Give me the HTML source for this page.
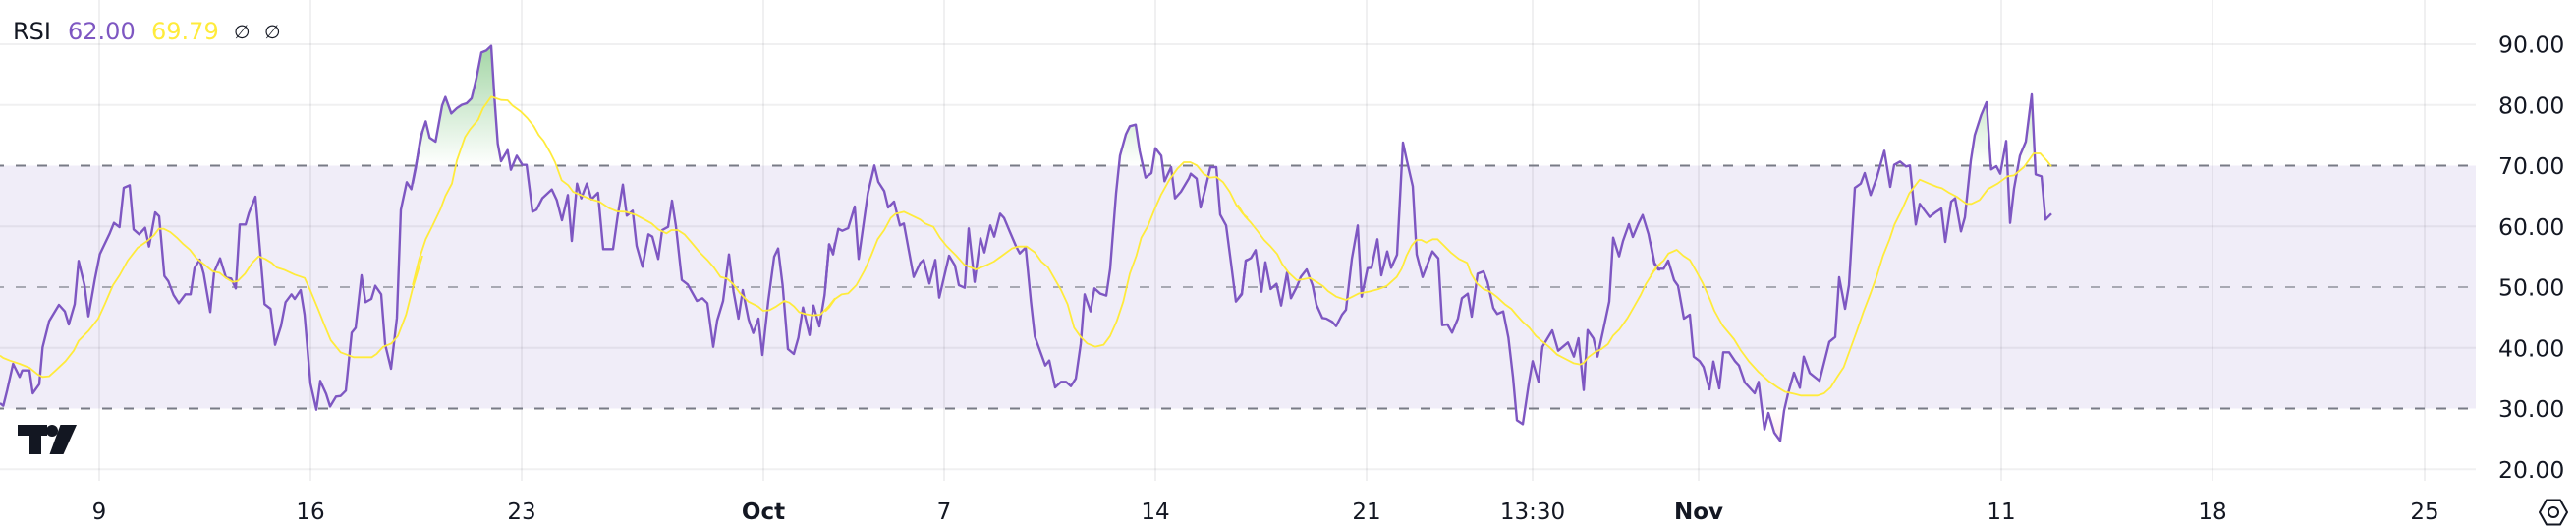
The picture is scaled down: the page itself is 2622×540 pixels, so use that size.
<!DOCTYPE html>
<html>
<head>
<meta charset="utf-8">
<style>
  html,body{margin:0;padding:0;background:#ffffff;}
  body{width:2622px;height:540px;overflow:hidden;}
  svg{display:block;}
  .ax{font-family:"DejaVu Sans","Liberation Sans",sans-serif;font-size:23px;fill:#131722;}
  .pr{font-family:"DejaVu Sans","Liberation Sans",sans-serif;font-size:23.5px;fill:#131722;}
  .hd{font-family:"DejaVu Sans","Liberation Sans",sans-serif;font-size:24px;}
</style>
</head>
<body>
<svg width="2622" height="540" viewBox="0 0 2622 540" xmlns="http://www.w3.org/2000/svg">
  <defs>
    <linearGradient id="gG" gradientUnits="userSpaceOnUse" x1="0" y1="417" x2="0" y2="-120">
      <stop offset="0" stop-color="#4caf50" stop-opacity="0"/>
      <stop offset="1" stop-color="#4caf50" stop-opacity="0.75"/>
    </linearGradient>
    <linearGradient id="gR" gradientUnits="userSpaceOnUse" x1="0" y1="1157" x2="0" y2="1700">
      <stop offset="0" stop-color="#f23645" stop-opacity="0"/>
      <stop offset="1" stop-color="#f23645" stop-opacity="0.6"/>
    </linearGradient>
    <clipPath id="cgF" clipPathUnits="userSpaceOnUse"><rect x="-100" y="-400" width="1375" height="817"/></clipPath>
    <clipPath id="cgM" clipPathUnits="userSpaceOnUse"><rect x="15" y="-400" width="1260" height="817"/></clipPath>
    <clipPath id="cgL" clipPathUnits="userSpaceOnUse"><rect x="15" y="-400" width="2000" height="817"/></clipPath>
    <clipPath id="crM" clipPathUnits="userSpaceOnUse"><rect x="15" y="1157" width="1260" height="800"/></clipPath>
    <clipPath id="crL" clipPathUnits="userSpaceOnUse"><rect x="15" y="1157" width="2000" height="800"/></clipPath>
  </defs>

  <rect x="0" y="0" width="2622" height="540" fill="#ffffff"/>

  <!-- RSI band -->
  <rect x="0" y="168.5" width="2520" height="247" fill="#f0edf8"/>

  <!-- horizontal grid -->
  <g stroke="#2a2e39" stroke-opacity="0.07" stroke-width="2">
    <line x1="0" y1="45" x2="2520" y2="45"/>
    <line x1="0" y1="106.75" x2="2520" y2="106.75"/>
    <line x1="0" y1="230.25" x2="2520" y2="230.25"/>
    <line x1="0" y1="353.75" x2="2520" y2="353.75"/>
    <line x1="0" y1="477.25" x2="2520" y2="477.25"/>
  </g>
  <!-- vertical grid -->
  <g stroke="#2a2e39" stroke-opacity="0.07" stroke-width="2">
    <line x1="101" y1="0" x2="101" y2="489"/>
    <line x1="316" y1="0" x2="316" y2="489"/>
    <line x1="531" y1="0" x2="531" y2="489"/>
    <line x1="777" y1="0" x2="777" y2="489"/>
    <line x1="961" y1="0" x2="961" y2="489"/>
    <line x1="1176" y1="0" x2="1176" y2="489"/>
    <line x1="1391" y1="0" x2="1391" y2="489"/>
    <line x1="1560" y1="0" x2="1560" y2="489"/>
    <line x1="1729" y1="0" x2="1729" y2="489"/>
    <line x1="2037" y1="0" x2="2037" y2="489"/>
    <line x1="2252" y1="0" x2="2252" y2="489"/>
    <line x1="2468" y1="0" x2="2468" y2="489"/>
  </g>

  <!-- dashed level lines -->
  <g stroke-width="2" stroke-dasharray="10 12" stroke-dashoffset="6">
    <line x1="0" y1="168.5" x2="2520" y2="168.5" stroke="#787b86"/>
    <line x1="0" y1="292" x2="2520" y2="292" stroke="#787b86" stroke-opacity="0.6"/>
    <line x1="0" y1="415.5" x2="2520" y2="415.5" stroke="#787b86"/>
  </g>

  <!-- Group A: x 0..430 -->
  <g transform="translate(0,30) scale(0.333333)">
    <polygon clip-path="url(#cgF)" fill="url(#gG)" points="0,417 0,1140 10,1148 22,1100 40,1020 60,1060 68,1040 90,1040 100,1110 120,1082 130,970 150,890 180,840 198,860 210,900 228,838 240,706 258,780 270,875 290,760 305,685 335,622 348,590 365,603 378,483 396,475 408,610 425,625 443,605 455,662 474,558 486,570 502,752 514,768 530,810 546,835 566,808 582,808 594,728 610,702 622,745 642,862 654,740 672,698 690,757 706,760 720,790 732,595 750,595 760,560 780,510 808,838 826,852 840,962 858,905 872,832 890,808 900,822 918,795 930,870 948,1080 966,1160 978,1072 996,1112 1008,1150 1026,1120 1040,1118 1056,1102 1074,925 1086,910 1104,750 1116,832 1134,822 1146,782 1164,808 1176,960 1194,1035 1212,880 1224,550 1242,466 1256,487 1270,415 1290,310 1290,417"/>
    <polyline fill="none" stroke="#7e57c2" stroke-width="7.2" stroke-linejoin="round" points="0,1140 10,1148 22,1100 40,1020 60,1060 68,1040 90,1040 100,1110 120,1082 130,970 150,890 180,840 198,860 210,900 228,838 240,706 258,780 270,875 290,760 305,685 335,622 348,590 365,603 378,483 396,475 408,610 425,625 443,605 455,662 474,558 486,570 502,752 514,768 530,810 546,835 566,808 582,808 594,728 610,702 622,745 642,862 654,740 672,698 690,757 706,760 720,790 732,595 750,595 760,560 780,510 808,838 826,852 840,962 858,905 872,832 890,808 900,822 918,795 930,870 948,1080 966,1160 978,1072 996,1112 1008,1150 1026,1120 1040,1118 1056,1102 1074,925 1086,910 1104,750 1116,832 1134,822 1146,782 1164,808 1176,960 1194,1035 1212,880 1224,550 1242,466 1256,487 1270,415 1290,310"/>
    <polyline fill="none" stroke="#ffeb3b" stroke-width="5.4" stroke-linejoin="round" points="0,995 10,1002 30,1010 60,1020 90,1032 115,1052 130,1060 150,1058 170,1040 200,1012 225,980 240,950 270,920 300,882 320,838 345,780 365,750 390,705 420,666 450,645 470,628 485,608 500,608 520,618 540,635 560,655 580,672 600,698 625,718 650,738 670,742 690,758 710,770 725,768 748,745 770,712 790,692 810,700 830,712 845,726 870,734 900,748 930,758 945,790 970,850 990,900 1010,948 1040,985 1080,1000 1110,1000 1135,1000 1150,990 1170,968 1195,958 1215,935 1240,870 1260,790 1290,690"/>
  </g>

  <!-- Group B: x 420..850 -->
  <g transform="translate(420,30) scale(0.333333)">
    <polygon clip-path="url(#cgM)" fill="url(#gG)" points="0,417 0,470 10,420 24,330 40,280 52,330 70,342 90,232 100,206 118,256 135,240 150,230 165,225 180,210 195,148 210,70 225,64 240,50 250,210 260,348 270,402 290,368 300,428 318,385 335,413 348,413 366,556 378,550 396,515 425,488 440,520 456,582 474,505 486,645 502,470 515,515 532,470 546,518 566,498 582,670 612,670 626,570 642,473 654,568 672,553 684,660 702,724 720,625 732,632 750,700 762,612 780,602 792,522 804,600 822,764 840,778 868,828 885,820 900,835 918,968 930,888 948,828 966,686 980,800 995,882 1008,795 1026,885 1040,926 1056,882 1068,993 1086,828 1104,693 1116,668 1130,782 1146,975 1164,990 1178,940 1192,848 1212,932 1224,842 1242,906 1258,810 1272,656 1284,686 1290,650 1290,417"/>
    <polyline fill="none" stroke="#7e57c2" stroke-width="7.2" stroke-linejoin="round" points="0,470 10,420 24,330 40,280 52,330 70,342 90,232 100,206 118,256 135,240 150,230 165,225 180,210 195,148 210,70 225,64 240,50 250,210 260,348 270,402 290,368 300,428 318,385 335,413 348,413 366,556 378,550 396,515 425,488 440,520 456,582 474,505 486,645 502,470 515,515 532,470 546,518 566,498 582,670 612,670 626,570 642,473 654,568 672,553 684,660 702,724 720,625 732,632 750,700 762,612 780,602 792,522 804,600 822,764 840,778 868,828 885,820 900,835 918,968 930,888 948,828 966,686 980,800 995,882 1008,795 1026,885 1040,926 1056,882 1068,993 1086,828 1104,693 1116,668 1130,782 1146,975 1164,990 1178,940 1192,848 1212,932 1224,842 1242,906 1258,810 1272,656 1284,686 1290,650"/>
    <polyline fill="none" stroke="#ffeb3b" stroke-width="5.4" stroke-linejoin="round" points="0,780 20,700 40,640 60,600 85,548 100,508 120,470 135,400 160,328 175,305 200,275 215,240 240,205 255,210 270,215 290,216 305,232 330,250 350,270 370,295 385,322 400,340 420,375 435,405 455,460 475,475 490,495 520,508 545,518 570,525 600,545 625,555 650,556 680,565 705,578 730,592 750,610 775,622 790,612 810,612 830,625 850,648 875,678 900,703 920,726 940,755 960,760 980,778 1000,805 1025,830 1055,845 1070,858 1090,856 1110,845 1135,828 1150,833 1165,845 1180,862 1200,868 1220,872 1245,870 1270,845 1290,820"/>
  </g>

  <!-- Group C: x 840..1270 -->
  <g transform="translate(840,30) scale(0.333333)">
    <polygon clip-path="url(#cgM)" fill="url(#gG)" points="0,417 0,790 12,655 24,683 40,608 52,614 70,606 90,540 102,700 130,500 150,415 162,465 180,493 192,543 210,525 228,598 240,592 270,755 290,712 300,703 318,775 336,703 348,818 378,690 396,720 408,780 426,788 438,607 456,770 474,637 486,680 504,598 516,632 534,562 546,575 564,618 582,660 594,683 612,665 628,830 640,937 672,1025 684,1010 702,1092 720,1075 735,1075 750,1088 765,1065 780,960 792,808 810,860 822,790 840,806 858,812 870,730 888,500 900,385 918,320 930,295 948,290 960,370 978,452 996,438 1008,362 1026,385 1036,463 1056,420 1068,515 1086,495 1110,455 1116,440 1134,455 1146,543 1160,488 1176,420 1194,420 1206,565 1224,598 1240,720 1254,830 1272,808 1284,705 1290,702 1290,417"/>
    <polyline fill="none" stroke="#7e57c2" stroke-width="7.2" stroke-linejoin="round" points="0,790 12,655 24,683 40,608 52,614 70,606 90,540 102,700 130,500 150,415 162,465 180,493 192,543 210,525 228,598 240,592 270,755 290,712 300,703 318,775 336,703 348,818 378,690 396,720 408,780 426,788 438,607 456,770 474,637 486,680 504,598 516,632 534,562 546,575 564,618 582,660 594,683 612,665 628,830 640,937 672,1025 684,1010 702,1092 720,1075 735,1075 750,1088 765,1065 780,960 792,808 810,860 822,790 840,806 858,812 870,730 888,500 900,385 918,320 930,295 948,290 960,370 978,452 996,438 1008,362 1026,385 1036,463 1056,420 1068,515 1086,495 1110,455 1116,440 1134,455 1146,543 1160,488 1176,420 1194,420 1206,565 1224,598 1240,720 1254,830 1272,808 1284,705 1290,702"/>
    <polyline fill="none" stroke="#ffeb3b" stroke-width="5.4" stroke-linejoin="round" points="0,860 12,848 30,822 50,808 70,805 95,780 120,735 140,690 160,640 180,612 200,575 215,562 240,556 265,568 290,580 305,592 330,602 350,635 370,660 400,690 425,718 460,732 490,720 515,708 540,690 570,668 590,662 615,662 640,680 660,708 680,725 700,760 720,795 740,838 760,910 780,938 800,958 825,968 850,962 870,935 890,890 910,830 930,745 950,690 965,635 985,600 1005,550 1025,505 1050,460 1075,425 1095,405 1115,405 1135,415 1155,440 1175,452 1195,450 1215,466 1235,495 1255,535 1275,562 1290,575"/>
  </g>

  <!-- Group D: x 1260..1690 -->
  <g transform="translate(1260,30) scale(0.333333)">
    <polygon clip-path="url(#cgM)" fill="url(#gG)" points="0,417 0,822 12,805 24,706 40,697 54,673 72,800 84,710 100,792 118,776 132,842 150,742 162,820 180,785 192,755 210,732 228,780 240,840 258,880 270,882 288,892 300,905 318,870 330,855 348,700 366,598 378,815 396,728 408,727 426,640 438,750 456,677 468,727 486,687 504,345 516,400 534,478 546,686 564,755 582,708 594,677 612,698 624,902 1290,732 1290,417"/>
    <polygon clip-path="url(#crM)" fill="url(#gR)" points="780,1157 780,850 792,868 810,860 826,940 840,1060 852,1192 870,1204 888,1082 900,1012 918,1075 918,1157"/>
    <polyline fill="none" stroke="#7e57c2" stroke-width="7.2" stroke-linejoin="round" points="0,822 12,805 24,706 40,697 54,673 72,800 84,710 100,792 118,776 132,842 150,742 162,820 180,785 192,755 210,732 228,780 240,840 258,880 270,882 288,892 300,905 318,870 330,855 348,700 366,598 378,815 396,728 408,727 426,640 438,750 456,677 468,727 486,687 504,345 516,400 534,478 546,686 564,755 582,708 594,677 612,698 624,902 640,900 654,925 672,882 684,820 702,806 714,876 732,745 750,738 762,770 780,850 792,868 810,860 826,940 840,1060 852,1192 870,1204 888,1082 900,1012 918,1075 930,968 960,918 978,980 1008,955 1026,998 1040,942 1056,1100 1068,917 1086,943 1098,998 1116,915 1134,830 1146,635 1164,692 1176,645 1194,594 1206,633 1224,590 1236,566 1254,625 1272,715 1284,732 1290,732"/>
    <polyline fill="none" stroke="#ffeb3b" stroke-width="5.4" stroke-linejoin="round" points="0,535 20,568 40,590 60,615 80,642 100,662 120,685 135,715 155,742 180,765 200,762 220,758 240,770 260,783 275,798 300,815 330,825 350,815 370,805 400,800 430,792 455,782 485,755 500,730 515,690 530,660 545,642 560,642 575,650 595,640 610,640 630,660 650,680 675,700 700,712 712,745 730,775 750,792 770,800 790,815 815,838 835,852 850,870 870,892 890,910 910,935 930,952 950,968 975,992 1000,1005 1025,1018 1045,1022 1055,1018 1070,1000 1090,985 1110,975 1130,960 1145,935 1165,915 1190,880 1210,845 1230,810 1245,778 1270,738 1290,715"/>
  </g>

  <!-- Group E: x 1680..2090 -->
  <g transform="translate(1680,30) scale(0.333333)">
    <polygon clip-path="url(#cgL)" fill="url(#gG)" points="600,417 606,780 624,483 642,470 654,438 672,505 690,455 714,370 732,480 744,413 762,403 780,418 792,415 810,595 822,532 852,572 870,558 888,546 900,648 918,525 930,515 948,616 960,573 978,400 990,322 1010,260 1026,222 1040,427 1056,417 1068,440 1086,340 1098,590 1110,485 1128,385 1146,342 1164,198 1176,442 1194,448 1206,580 1224,562 1224,417"/>
    <polygon clip-path="url(#crL)" fill="url(#gR)" points="330,1157 330,1075 348,1220 360,1170 378,1230 396,1255 408,1162 420,1110 420,1157"/>
    <polyline fill="none" stroke="#7e57c2" stroke-width="7.2" stroke-linejoin="round" points="0,648 12,712 24,730 40,730 54,705 72,765 84,782 102,882 120,870 132,998 150,1012 162,1030 180,1098 192,1013 210,1095 222,985 240,985 258,1012 270,1025 288,1077 300,1090 318,1110 330,1075 348,1220 360,1170 378,1230 396,1255 408,1162 420,1110 438,1047 456,1093 468,998 486,1048 516,1072 546,953 564,938 576,756 594,852 606,780 624,483 642,470 654,438 672,505 690,455 714,370 732,480 744,413 762,403 780,418 792,415 810,595 822,532 852,572 870,558 888,546 900,648 918,525 930,515 948,616 960,573 978,400 990,322 1010,260 1026,222 1040,427 1056,417 1068,440 1086,340 1098,590 1110,485 1128,385 1146,342 1164,198 1176,442 1194,448 1206,580 1224,562"/>
    <polyline fill="none" stroke="#ffeb3b" stroke-width="5.4" stroke-linejoin="round" points="0,750 20,722 40,705 55,683 80,672 100,690 120,703 140,738 160,775 180,820 195,858 220,903 255,945 275,978 300,1012 330,1045 360,1072 390,1093 410,1105 440,1112 460,1117 510,1117 530,1110 550,1092 570,1060 590,1030 610,975 630,920 650,862 670,810 690,755 710,690 730,640 745,595 770,545 790,500 822,458 850,470 875,480 890,484 910,497 935,510 965,532 980,532 1005,520 1030,487 1060,470 1090,448 1110,445 1140,420 1170,378 1190,378 1210,400 1224,418"/>
  </g>

  <!-- header legend -->
  <text class="hd" x="13" y="40" fill="#131722">RSI</text>
  <text class="hd" x="69" y="40" fill="#7e57c2">62.00</text>
  <text class="hd" x="154" y="40" fill="#ffeb3b">69.79</text>
  <text class="hd" x="238" y="39" fill="#131722" style="font-size:19px">∅</text>
  <text class="hd" x="269" y="39" fill="#131722" style="font-size:19px">∅</text>

  <!-- TradingView logo -->
  <g fill="#131722">
    <rect x="18" y="432" width="30" height="11"/>
    <rect x="30" y="432" width="12" height="30"/>
    <circle cx="53" cy="438" r="6"/>
    <polygon points="61.5,432 78,432 64.5,462 50.5,462"/>
  </g>

  <!-- price axis -->
  <g class="pr">
    <text x="2543" y="53.5">90.00</text>
    <text x="2543" y="115.3">80.00</text>
    <text x="2543" y="177">70.00</text>
    <text x="2543" y="238.8">60.00</text>
    <text x="2543" y="300.5">50.00</text>
    <text x="2543" y="362.3">40.00</text>
    <text x="2543" y="424">30.00</text>
    <text x="2543" y="485.8">20.00</text>
  </g>

  <!-- time axis -->
  <g class="ax" text-anchor="middle">
    <text x="101" y="528">9</text>
    <text x="316" y="528">16</text>
    <text x="531" y="528">23</text>
    <text x="777" y="528" font-weight="bold">Oct</text>
    <text x="961" y="528">7</text>
    <text x="1176" y="528">14</text>
    <text x="1391" y="528">21</text>
    <text x="1560" y="528">13:30</text>
    <text x="1729" y="528" font-weight="bold">Nov</text>
    <text x="2037" y="528">11</text>
    <text x="2252" y="528">18</text>
    <text x="2468" y="528">25</text>
  </g>

  <!-- settings icon -->
  <g fill="none" stroke="#131722" stroke-width="2" stroke-linejoin="round">
    <polygon points="2585,521 2592,508.5 2606,508.5 2613,521 2606,533.5 2592,533.5"/>
    <circle cx="2599" cy="521" r="5"/>
  </g>
</svg>
</body>
</html>
